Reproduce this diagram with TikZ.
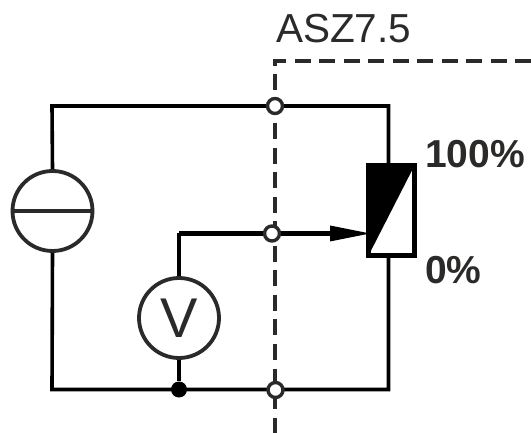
\documentclass[tikz,border=0pt]{standalone}
\usepackage{fontspec}
\setmainfont{Liberation Sans}
\definecolor{ink}{HTML}{2B2A29}
\tikzset{
  wire/.style={draw=black,line width=3.6pt,line join=miter},
  heavywire/.style={draw=black,line width=4.2pt},
  boundary/.style={draw=ink,line width=4pt,dash pattern=on 16pt off 8.5pt},
  meter/.style={circle,draw=ink,line width=3.8pt,fill=white,minimum size=80pt,inner sep=0pt,text=ink,font=\fontsize{56}{56}\selectfont},
  terminal/.style={circle,draw=ink,line width=3.4pt,fill=white,minimum size=15pt,inner sep=0pt},
  junction/.style={circle,fill=black,minimum size=16pt,inner sep=0pt},
  title/.style={anchor=base west,inner sep=0pt,text=ink,font=\fontsize{40.5}{41}\selectfont},
  scalelabel/.style={anchor=base west,inner sep=0pt,text=ink,font=\fontsize{39}{40}\selectfont\bfseries}
}
\begin{document}
\begin{tikzpicture}[x=1pt,y=-1pt]
\useasboundingbox[fill=white] (0,0) rectangle (531,433);
% coordinates
\coordinate (tl) at (52,106);
\coordinate (tr) at (388.5,106);
\coordinate (bl) at (52,389.5);
\coordinate (br) at (388.5,389.5);
\coordinate (vtop) at (179,233.5);
\coordinate (dashA) at (531,61);
\coordinate (dashB) at (275,61);
\coordinate (dashC) at (275,433);
% boundary
\draw[boundary] (dashA) -- (dashB) -- (dashC);
% potentiometer
\node[outer sep=0pt,fill=white,minimum width=46pt,minimum height=90pt,inner sep=0pt] (pot) at (391.5,210.5) {};
\fill[black] (pot.north west) -- (pot.north east) -- (pot.south west) -- cycle;
\draw[black,line width=5.2pt,line join=miter] (pot.north west) rectangle (pot.south east);
% source and meter
\node[meter] (src) at (52.5,211) {};
\node[meter,inner ysep=0pt] (vm) at (179,318) {V};
% wires
\draw[wire] (src.north) -- (tl) -- (tr) -- (pot.north -| tr);
\draw[wire] (src.south) -- (bl) -- (br) -- (pot.south -| br);
\draw[draw=ink,line width=3.6pt] (src.west) -- (src.east);
\draw[wire] (vm.north) -- (vtop);
\node[junction] (dot) at (179,389.5) {};
\draw[wire] (vm.south) -- (dot);
\draw[heavywire] (vtop) -- (335,233.5);
\coordinate (tip) at (370,233.5);
\fill[black] (330,225.5) -- (tip) -- (330,241.5) -- cycle;
% terminals
\node[terminal] (t1) at (275,106) {};
\node[terminal] (t2) at (272,233.5) {};
\node[terminal] (t3) at (275.5,390) {};
% labels
\node[title] (lab) at (276,43) {ASZ7.5};
\node[scalelabel] (hi) at (425,168) {100\%};
\node[scalelabel] (lo) at (425,284) {0\%};
\end{tikzpicture}
\end{document}
